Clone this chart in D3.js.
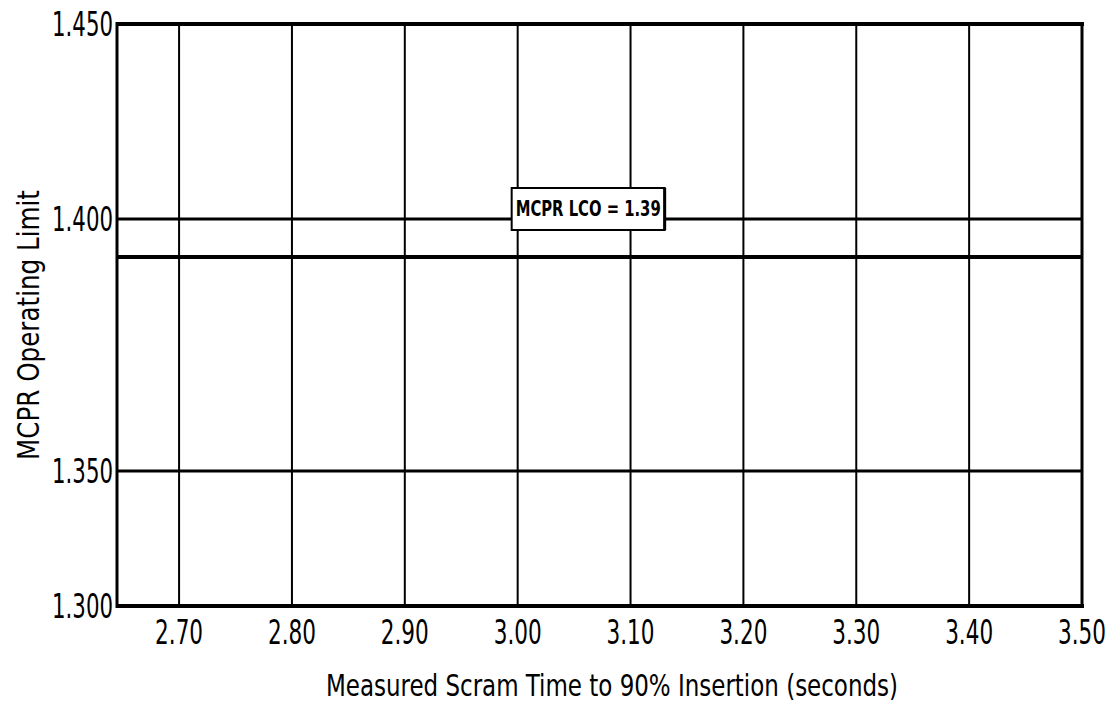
<!DOCTYPE html>
<html><head><meta charset="utf-8">
<script src="https://cdn.jsdelivr.net/npm/d3@7"></script>
<style>body{margin:0;background:#fff}svg{display:block}</style>
</head><body><svg id="c" width="1120" height="705"></svg>
<script>
// ---- data ----
const xTicks = [2.70, 2.80, 2.90, 3.00, 3.10, 3.20, 3.30, 3.40, 3.50];
const xTickLabels = ["2.70", "2.80", "2.90", "3.00", "3.10", "3.20", "3.30", "3.40", "3.50"];
const yTicks = [1.300, 1.350, 1.400, 1.450];
const yTickLabels = ["1.300", "1.350", "1.400", "1.450"];
const gridY = [1.350, 1.400];
const limitValue = 1.39;
const limitLabel = "MCPR LCO = 1.39";
const limitLabelX = 3.00;
const xTitle = "Measured Scram Time to 90% Insertion (seconds)";
const yTitle = "MCPR Operating Limit";

// ---- layout ----
const svg = d3.select("#c");
const L = 117, R = 1082, T = 24, B = 606;
const x = d3.scaleLinear().domain([2.645, 3.50]).range([L, R]);
// scanned chart has uneven vertical spacing; piecewise scale follows it
const y = d3.scaleLinear().domain([1.30, 1.35, 1.39, 1.40, 1.45]).range([B, 471, 257, 219, T]);
const font = "'DejaVu Sans Condensed','Liberation Sans Narrow','DejaVu Sans',sans-serif";

// vertical grid lines
svg.append("g").selectAll("line").data(xTicks).join("line")
  .attr("x1", d => x(d)).attr("x2", d => x(d))
  .attr("y1", y(1.45)).attr("y2", y(1.30))
  .attr("stroke", "#000").attr("stroke-width", d => d === 3.50 ? 3 : 2);

// horizontal grid lines
svg.append("g").selectAll("line").data(gridY).join("line")
  .attr("x1", L).attr("x2", R)
  .attr("y1", d => y(d)).attr("y2", d => y(d))
  .attr("stroke", "#000").attr("stroke-width", 3);

// limit line
svg.append("line")
  .attr("x1", L).attr("x2", R + 1)
  .attr("y1", y(limitValue)).attr("y2", y(limitValue))
  .attr("stroke", "#000").attr("stroke-width", 4);

// frame: top, bottom, left
svg.append("line").attr("x1", L - 1).attr("x2", R + 2).attr("y1", y(1.45)).attr("y2", y(1.45))
  .attr("stroke", "#000").attr("stroke-width", 4);
svg.append("line").attr("x1", L - 1).attr("x2", R + 2).attr("y1", y(1.30)).attr("y2", y(1.30))
  .attr("stroke", "#000").attr("stroke-width", 4);
svg.append("line").attr("x1", L).attr("x2", L).attr("y1", y(1.45) - 2).attr("y2", y(1.30) + 2)
  .attr("stroke", "#000").attr("stroke-width", 3);

// y tick labels
svg.append("g").selectAll("text").data(yTicks).join("text")
  .attr("x", 113).attr("y", d => y(d) + 12)
  .attr("text-anchor", "end")
  .attr("font-family", font).attr("font-size", 33)
  .attr("textLength", 61).attr("lengthAdjust", "spacingAndGlyphs")
  .text((d, i) => yTickLabels[i]);

// x tick labels
svg.append("g").selectAll("text").data(xTicks).join("text")
  .attr("x", d => x(d) - 24).attr("y", 644)
  .attr("font-family", font).attr("font-size", 33)
  .attr("textLength", 48).attr("lengthAdjust", "spacingAndGlyphs")
  .text((d, i) => xTickLabels[i]);

// limit label box
const bx = x(limitLabelX) - 6, by = y(1.40) - 31;
svg.append("rect").attr("x", bx).attr("y", by).attr("width", 153).attr("height", 42)
  .attr("fill", "#fff").attr("stroke", "#000").attr("stroke-width", 2);
svg.append("line").attr("x1", bx + 153).attr("x2", bx + 153).attr("y1", by).attr("y2", by + 42)
  .attr("stroke", "#000").attr("stroke-width", 3);
svg.append("text").attr("x", bx + 4).attr("y", by + 28)
  .attr("font-family", font).attr("font-size", 21).attr("font-weight", "bold")
  .attr("textLength", 145).attr("lengthAdjust", "spacingAndGlyphs")
  .text(limitLabel);

// axis titles
svg.append("text").attr("x", 326).attr("y", 696)
  .attr("font-family", font).attr("font-size", 30)
  .attr("textLength", 572).attr("lengthAdjust", "spacingAndGlyphs")
  .text(xTitle);
svg.append("text").attr("transform", "translate(39,460) rotate(-90)")
  .attr("font-family", font).attr("font-size", 31)
  .attr("textLength", 270).attr("lengthAdjust", "spacingAndGlyphs")
  .text(yTitle);
</script></body></html>
